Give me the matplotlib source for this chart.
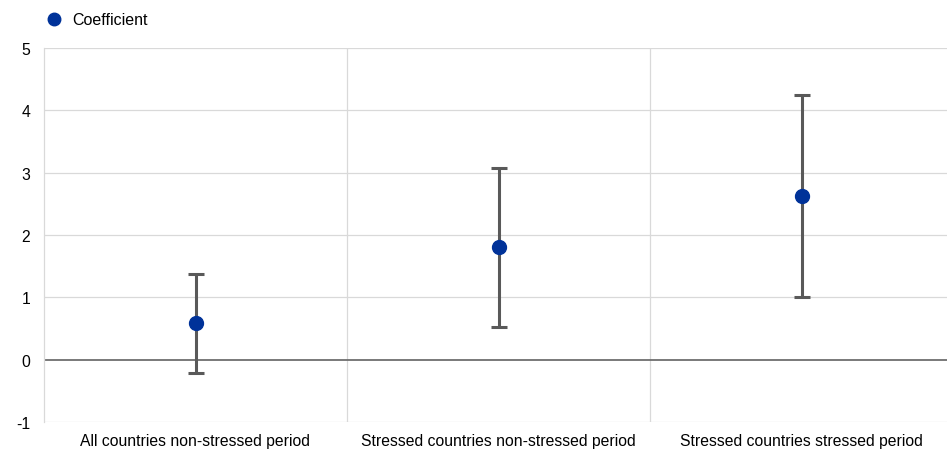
import numpy as np
import matplotlib.pyplot as plt

plt.rcParams['font.family'] = ['Liberation Sans', 'DejaVu Sans']
plt.rcParams['axes.unicode_minus'] = False

# data
categories = ["All countries non-stressed period",
              "Stressed countries non-stressed period",
              "Stressed countries stressed period"]
coef = [0.59, 1.81, 2.63]
upper = [1.38, 3.08, 4.24]
lower = [-0.21, 0.53, 1.01]

blue = '#003299'
grey = '#595959'

fig = plt.figure(figsize=(9.47, 4.52), dpi=100)
ax = fig.add_axes([44 / 947, 1 - 423 / 452, 909 / 947, 374 / 452])

x = np.arange(len(categories))
err = [np.array(coef) - np.array(lower), np.array(upper) - np.array(coef)]
ax.errorbar(x, coef, yerr=err, fmt='none', ecolor=grey, elinewidth=2.2,
            capsize=6, capthick=2.2, zorder=3)
ax.plot(x, coef, 'o', color=blue, markersize=10, zorder=4, label='Coefficient')

ax.set_xlim(-0.5, 2.5)
ax.set_ylim(-1, 5)
ax.set_yticks(range(-1, 6))
ax.set_xticks(x)
ax.set_xticklabels(categories)

for yv in range(1, 6):
    ax.axhline(yv, color='#d9d9d9', lw=0.9, zorder=1)
ax.axhline(-1, color='#d9d9d9', lw=0.9, zorder=1)
for xv in [0.5, 1.5]:
    ax.axvline(xv, color='#d9d9d9', lw=0.9, zorder=1)
ax.axhline(0, color='#6e6e6e', lw=1.3, zorder=2)

for s in ['top', 'right', 'bottom']:
    ax.spines[s].set_visible(False)
ax.spines['left'].set_color('#d9d9d9')
ax.spines['left'].set_linewidth(0.9)

ax.tick_params(axis='both', length=0, labelsize=11.3, colors='#000000')
ax.tick_params(axis='x', pad=8)
ax.tick_params(axis='y', pad=10)

ax.legend(loc='lower left', bbox_to_anchor=(0.0, 1.055), frameon=False,
          fontsize=11.5, handletextpad=0.55, borderaxespad=0, borderpad=0,
          markerscale=0.9, handlelength=1.2)

fig.savefig('out.png', dpi=100)
